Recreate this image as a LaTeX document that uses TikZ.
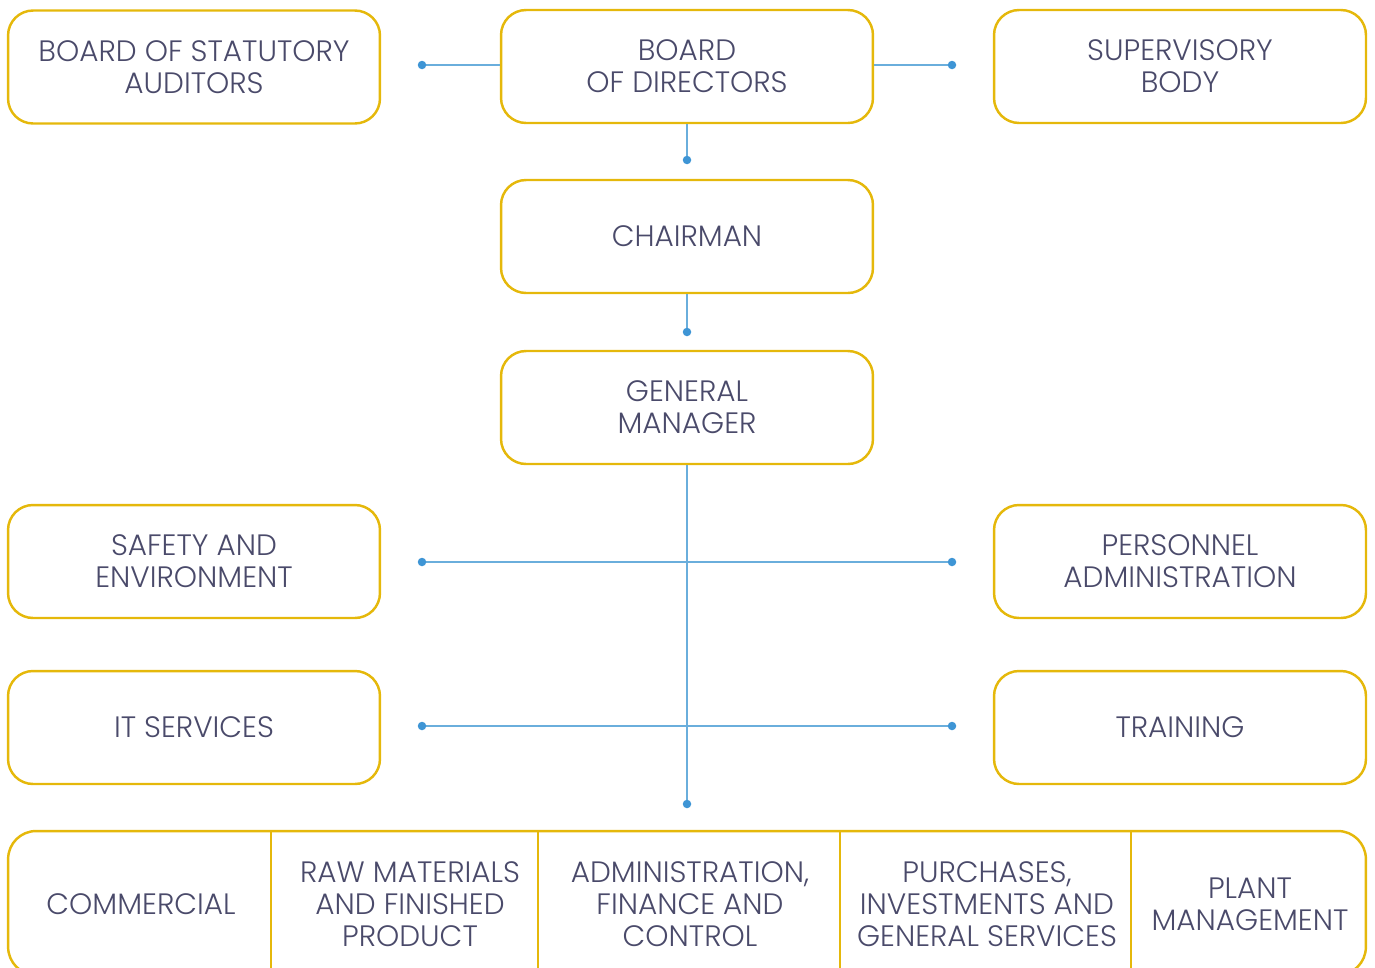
\documentclass[tikz,border=0pt]{standalone}
\usepackage{fontspec}
\setmainfont{Poppins Light}
\definecolor{gold}{HTML}{E5B80B}
\definecolor{ink}{HTML}{4A4A6A}
\definecolor{wirec}{HTML}{6AAEDC}
\definecolor{dotc}{HTML}{3E95D5}
\begin{document}
\begin{tikzpicture}[x=0.02cm,y=-0.02cm,
  label text/.style={text=ink, align=center, font=\fontsize{16.8}{18.1}\selectfont},
  unitbox/.style={label text, draw=gold, line width=1.4pt, rounded corners=0.5cm,
    minimum width=7.44cm, minimum height=2.26cm},
  wire/.style={draw=wirec, line width=0.85pt},
  joint/.style={circle, fill=dotc, inner sep=0pt, minimum size=0.17cm}]
\useasboundingbox (0,0) rectangle (1375,967);

% governance row
\node[unitbox] (auditors) at (194,67) {BOARD OF STATUTORY\\AUDITORS};
\node[unitbox] (board) at (687,66.5) {BOARD\\OF DIRECTORS};
\node[unitbox] (supervisory) at (1180,66.5) {SUPERVISORY\\BODY};
\node[unitbox] (chairman) at (687,236.5) {CHAIRMAN};
\node[unitbox] (gm) at (687,407.5) {GENERAL\\MANAGER};

% staff functions
\node[unitbox] (safety) at (194,561.5) {SAFETY AND\\ENVIRONMENT};
\node[unitbox] (personnel) at (1180,561.5) {PERSONNEL\\ADMINISTRATION};
\node[unitbox] (it) at (194,727.5) {IT SERVICES};
\node[unitbox] (training) at (1180,727.5) {TRAINING};

% line functions band
\node[draw=gold, line width=1.4pt, rounded corners=0.56cm,
  minimum width=27.16cm, minimum height=2.88cm] (band) at (687,903) {};
\foreach \xx in {271,538,840,1131}
  \draw[gold, line width=1.4pt] (\xx,831) -- (\xx,975);
\node[label text] (commercial) at (141,904) {COMMERCIAL};
\node[label text] (raw) at (410,904) {RAW MATERIALS\\AND FINISHED\\PRODUCT};
\node[label text] (admin) at (690,904) {ADMINISTRATION,\\FINANCE AND\\CONTROL};
\node[label text] (purchases) at (987,904) {PURCHASES,\\INVESTMENTS AND\\GENERAL SERVICES};
\node[label text] (plant) at (1250,904) {PLANT\\MANAGEMENT};

% joints
\coordinate (jA) at (422,65);
\coordinate (jB) at (952,65);
\coordinate (jC) at (687,160);
\coordinate (jD) at (687,332);
\coordinate (jE) at (687,804);
\coordinate (jF) at (422,562);
\coordinate (jG) at (952,562);
\coordinate (jH) at (422,726);
\coordinate (jI) at (952,726);

% connectors
\draw[wire] (jA) -- (board.west |- jA);
\draw[wire] (board.east |- jB) -- (jB);
\draw[wire] (board.south) -- (jC);
\draw[wire] (chairman.south) -- (jD);
\draw[wire] (gm.south) -- (jE);
\draw[wire] (jF) -- (jG);
\draw[wire] (jH) -- (jI);

\foreach \j in {jA,jB,jC,jD,jE,jF,jG,jH,jI}
  \node[joint] at (\j) {};
\end{tikzpicture}
\end{document}
